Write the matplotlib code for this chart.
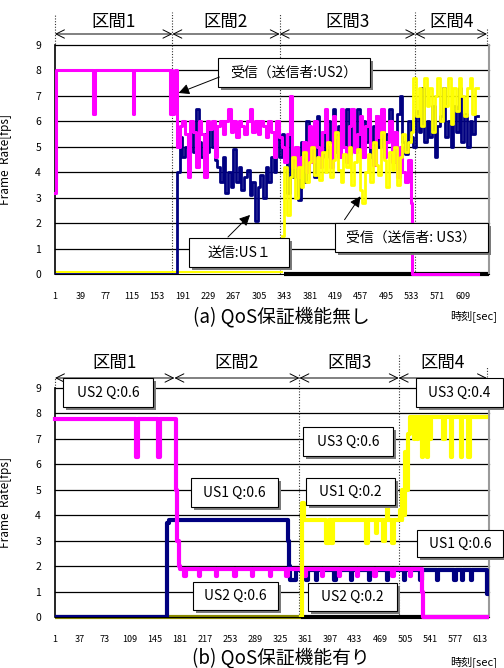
import numpy as np
import matplotlib
matplotlib.use("Agg")
import matplotlib.pyplot as plt
import matplotlib.transforms as mtransforms
from matplotlib.patches import Rectangle, FancyArrowPatch

plt.rcParams['font.family'] = ['Noto Sans CJK JP', 'DejaVu Sans']

W, H = 504, 668
MAGENTA = '#ff00ff'
NAVY = '#000080'
YELLOW = '#ffff00'
OLIVE = '#8a8a00'

# ---------------- (a) QoS保証機能無し ----------------
ticks_a = [1, 39, 77, 115, 153, 191, 229, 267, 305, 343, 381, 419, 457, 495, 533, 571, 609]
sec_a = [1, 176, 336, 538, 645]
sec_names = ['区間1', '区間2', '区間3', '区間4']

# 送信 US1 (sampled every 4 sec from t=183)
nav_a_t0 = 183
nav_a = [4.0, 5.4, 4.6, 5.0, 4.2, 5.6, 4.8, 6.5, 5.2, 4.6, 5.5, 4.8, 5.9, 5.0, 4.5,
         4.2, 3.6, 4.6, 3.2, 4.0, 3.4, 4.9, 3.6, 4.2, 3.3, 3.8, 4.1, 3.1, 3.6, 2.1,
         3.4, 3.9, 3.0, 4.2, 3.6, 4.6, 4.0, 5.3, 4.6, 5.5,
         4.8, 3.2, 5.5, 3.8, 4.5, 2.9, 5.2, 3.6, 6.0, 4.4, 5.4, 3.8, 6.2, 4.9, 5.6,
         4.6, 6.0, 5.2, 6.5, 4.8, 5.8, 6.4, 5.0, 6.5, 4.7, 5.9, 5.3, 6.5, 4.9, 6.0,
         5.2, 6.5, 4.6, 5.8, 6.2, 5.0, 6.4, 4.8, 5.5, 6.5, 5.1, 4.4, 6.3, 7.0, 5.2, 4.7, 6.0, 5.4,
         5.0, 6.4, 5.6, 7.3, 5.2, 6.0, 5.4, 6.6, 4.6, 5.8, 6.2, 7.3, 5.4, 6.0, 5.0, 6.6,
         5.6, 7.3, 5.2, 6.3, 5.0, 6.0, 5.5, 6.2]

# 受信 (送信者:US2)
mag_a_flat_t = [1, 2, 58, 60, 117, 119, 172, 174, 176, 178, 180]
mag_a_flat_v = [3.2, 8.0, 6.3, 8.0, 6.3, 8.0, 6.3, 8.0, 6.3, 7.0, 8.0]
mag_a_t0 = 183
mag_a = [5.0, 5.8, 6.0, 5.5, 3.8, 6.0, 5.6, 4.2, 6.0, 5.5, 3.8, 6.0, 5.7, 6.0, 4.6,
         5.8, 6.0, 5.5, 6.0, 6.5, 5.6, 6.0, 5.4, 6.0, 5.8, 5.5, 6.0, 6.5, 5.6, 6.0,
         5.5, 6.0, 5.8, 5.4, 6.0, 5.6, 4.6, 6.0, 5.4, 5.0,
         4.4, 5.5, 7.0, 4.2, 5.0, 3.8, 4.6, 5.2, 4.0, 5.8, 4.4, 6.0, 5.0, 4.2, 5.6,
         6.5, 5.0, 4.2, 6.2, 5.4, 4.6, 6.5, 5.0, 4.4, 5.8, 6.5, 4.8, 5.5, 6.2, 4.6,
         5.8, 6.5, 5.0, 4.3, 6.2, 5.4, 6.5, 4.6, 5.2, 6.0, 4.4, 5.6, 3.8, 5.0, 4.0, 3.6, 4.5, 2.8]
mag_a_end_t = [533, 631]

# 受信 (送信者:US3)
yel_a_t0 = 339
yel_a = [1.5, 4.2, 2.3, 3.8, 4.6, 3.0, 4.2, 3.4, 4.8, 3.6, 4.4, 5.0, 3.9, 4.6, 3.7,
         4.8, 4.0, 5.2, 3.8, 4.5, 5.6, 4.1, 3.6, 4.7, 4.2, 5.0, 3.5, 4.4, 4.9, 3.3, 2.8,
         4.0, 4.7, 3.6, 5.2, 4.3, 3.9, 5.6, 4.5, 3.4, 4.8, 4.1, 5.0, 3.5, 4.6, 5.5, 4.8, 5.2, 5.6,
         7.7, 6.2, 7.3, 5.8, 7.7, 6.6, 7.3, 5.6, 7.0, 7.7, 6.0, 7.3, 6.6, 7.7, 5.9, 7.3,
         6.4, 7.7, 7.0, 6.2, 7.3, 7.7, 6.3, 7.3]
yel_a_zero_t = [1, 339]
black_a_t = [343, 648]

# ---------------- (b) QoS保証機能有り ----------------
ticks_b = [1, 37, 73, 109, 145, 181, 217, 253, 289, 325, 361, 397, 433, 469, 505, 541, 577, 613]
sec_b = [1, 173, 353, 496, 623]

mag_b_t = [1, 118, 120, 150, 152, 175, 177, 179, 181, 187, 189, 208, 210, 233, 235, 259, 261,
           284, 286, 310, 312, 334, 336, 360, 362, 385, 387, 410, 412, 436, 438, 461, 463,
           487, 489, 512, 514, 530, 531, 623]
mag_b_v = [7.8, 6.3, 7.8, 6.3, 7.8, 5.0, 3.0, 2.0, 1.88, 1.62, 1.88, 1.62, 1.88, 1.62, 1.88,
           1.62, 1.88, 1.62, 1.88, 1.62, 1.88, 1.62, 1.88, 1.62, 1.88, 1.62, 1.88, 1.62, 1.88,
           1.62, 1.88, 1.62, 1.88, 1.62, 1.88, 1.62, 1.88, 1.0, 0.0, 0.0]

nav_b_t = [1, 162, 163, 165, 336, 338, 340, 348, 363, 365, 377, 379, 403, 405, 427, 429,
           453, 455, 479, 481, 503, 505, 527, 529, 551, 553, 576, 578, 587, 589, 600, 602, 623, 626]
nav_b_v = [0.0, 1.0, 3.7, 3.82, 3.0, 2.0, 1.45, 1.85, 1.45, 1.85, 1.45, 1.85, 1.45, 1.85,
           1.45, 1.85, 1.45, 1.85, 1.45, 1.85, 1.45, 1.85, 1.45, 1.85, 1.45, 1.85, 1.45, 1.85,
           1.45, 1.85, 1.45, 1.85, 0.9, 0.9]

yel_b_t = [355, 356, 357, 359, 391, 396, 398, 402, 449, 452, 463, 465, 474, 476, 479, 481,
           486, 489, 498, 500, 501, 503, 505, 507, 509, 512, 518, 520, 522, 524, 529, 531,
           536, 538, 540, 542, 560, 562, 571, 573, 585, 587, 596, 598, 622]
yel_b_v = [0.0, 1.0, 4.5, 3.8, 2.9, 3.8, 2.9, 3.8, 2.9, 3.8, 3.3, 3.8, 3.0, 3.8, 4.3, 3.8,
           2.9, 3.8, 4.2, 3.8, 5.0, 4.0, 6.5, 5.0, 7.2, 7.85, 7.0, 7.85, 7.0, 7.85, 6.3, 7.85,
           6.3, 7.85, 7.0, 7.85, 7.0, 7.85, 6.3, 7.85, 6.3, 7.85, 6.3, 7.85, 7.85]
olive_b_t = [1, 355]
black_b_t = [355, 626]


def fpx(x, y):
    return (x / W, 1 - y / H)


fig = plt.figure(figsize=(W / 100, H / 100), dpi=100)
fig.patch.set_facecolor('white')


def make_axes(top_px, bottom_px, xmax, ticks):
    ax = fig.add_axes([55 / W, 1 - bottom_px / H, 434 / W, (bottom_px - top_px) / H])
    ax.set_xlim(1, xmax)
    ax.set_ylim(0, 9)
    for y in range(1, 10):
        ax.axhline(y, color='black', lw=0.9, zorder=0.5, clip_on=False)
    ax.spines['top'].set_visible(False)
    ax.spines['right'].set_color('#9a9a9a')
    ax.spines['right'].set_linewidth(1.5)
    ax.spines['left'].set_linewidth(1.2)
    ax.set_yticks(range(10))
    ax.set_xticks(ticks)
    ax.tick_params(axis='y', length=0, pad=10, labelsize=7.5)
    ax.tick_params(axis='x', length=0, pad=13, labelsize=6.5)
    ax.set_ylabel('Frame  Rate[fps]', fontsize=8.5)
    ax.yaxis.set_label_coords(-43 / 434, 0.5)
    return ax


def sections(ax, sec, yfrac, label_frac, dots):
    tr = mtransforms.blended_transform_factory(ax.transData, ax.transAxes)
    for i in range(len(sec) - 1):
        ax.annotate('', xy=(sec[i + 1], yfrac), xytext=(sec[i], yfrac),
                    xycoords=tr, textcoords=tr, annotation_clip=False,
                    arrowprops=dict(arrowstyle='<->,head_length=0.6,head_width=0.3',
                                    lw=0.7, color='black', shrinkA=0, shrinkB=0))
        ax.text((sec[i] + sec[i + 1]) / 2, label_frac, sec_names[i], transform=tr,
                ha='center', va='center', fontsize=12.5)
    for x, y0, y1 in dots:
        ax.plot([x, x], [y0, y1], transform=tr, ls=(0, (1, 1.5)), lw=0.8,
                color='#333333', clip_on=False, zorder=1)


def box(text, x0, y0, x1, y1, fs=10):
    w, h = (x1 - x0) / W, (y1 - y0) / H
    fig.add_artist(Rectangle(fpx(x0 + 3, y1 + 3), w, h, transform=fig.transFigure,
                             fc='#7a7a7a', ec='none', zorder=5))
    fig.add_artist(Rectangle(fpx(x0, y1), w, h, transform=fig.transFigure,
                             fc='white', ec='black', lw=0.8, zorder=6))
    fig.text((x0 + x1) / 2 / W, 1 - (y0 + y1) / 2 / H, text, ha='center', va='center',
             fontsize=fs, zorder=7)


def arrow(xa, ya, xb, yb):
    fig.add_artist(FancyArrowPatch(fpx(xa, ya), fpx(xb, yb), transform=fig.transFigure,
                                   arrowstyle='-|>', mutation_scale=16, lw=0.7,
                                   color='black', zorder=6))


# ----- plot (a) -----
ax1 = make_axes(45, 274, 648, ticks_a)
ax1.plot(black_a_t, [0, 0], color='black', lw=3, solid_capstyle='butt', clip_on=False, zorder=2)
ax1.plot(yel_a_zero_t, [0.06, 0.06], color=YELLOW, lw=1.5, zorder=2)

nav_t = nav_a_t0 + 4 * np.arange(len(nav_a))
ax1.plot([1] + list(nav_t) + [631], [0] + nav_a + [nav_a[-1]], color=NAVY, lw=2.0,
         drawstyle='steps-post', zorder=3)

mag_t = mag_a_t0 + 4 * np.arange(len(mag_a))
ax1.plot(mag_a_flat_t + list(mag_t) + mag_a_end_t, mag_a_flat_v + mag_a + [0, 0],
         color=MAGENTA, lw=2.2, drawstyle='steps-post', zorder=4, clip_on=False)

yel_t = yel_a_t0 + 4 * np.arange(len(yel_a))
ax1.plot(list(yel_t) + [631], yel_a + [yel_a[-1]], color=YELLOW, lw=2.0,
         drawstyle='steps-post', zorder=5)

sections(ax1, sec_a, (274 - 34) / 229, (274 - 22) / 229,
         [(1, 1.005, 1.135), (176, 0, 1.145), (336, 0, 1.14), (538, 0, 1.145), (645, 1.005, 1.075)])

fig.text(281 / W, 1 - 317 / H, '(a) QoS保証機能無し', ha='center', va='center', fontsize=13.5)
fig.text(474 / W, 1 - 316 / H, '時刻[sec]', ha='center', va='center', fontsize=8)

box('受信（送信者:US2）', 218, 58, 370, 87)
arrow(222, 76, 176, 94)
box('送信:US１', 189, 238, 289, 267)
arrow(226, 239, 252, 213)
box('受信（送信者: US3）', 335, 223, 488, 252)
arrow(343, 222, 362, 194)

# ----- plot (b) -----
ax2 = make_axes(388, 617, 626, ticks_b)
ax2.plot(olive_b_t, [0, 0], color=OLIVE, lw=3, solid_capstyle='butt', clip_on=False, zorder=2)
ax2.plot(black_b_t, [0, 0], color='black', lw=3, solid_capstyle='butt', clip_on=False, zorder=2)
ax2.plot(nav_b_t, nav_b_v, color=NAVY, lw=3, drawstyle='steps-post', zorder=3)
ax2.plot(mag_b_t, mag_b_v, color=MAGENTA, lw=3, drawstyle='steps-post', zorder=4, clip_on=False)
ax2.plot(yel_b_t, yel_b_v, color=YELLOW, lw=3, drawstyle='steps-post', zorder=5)

sections(ax2, sec_b, (617 - 378) / 229, (617 - 363) / 229,
         [(1, 1.0, 1.05), (353, 0, 1.066), (496, 0, 1.144), (623, 1.05, 1.09)])

fig.text(281 / W, 1 - 658 / H, '(b) QoS保証機能有り', ha='center', va='center', fontsize=13.5)
fig.text(474 / W, 1 - 662 / H, '時刻[sec]', ha='center', va='center', fontsize=8)

box('US2 Q:0.6', 63, 378, 153, 407)
box('US3 Q:0.4', 416, 378, 503, 407)
box('US3 Q:0.6', 303, 427, 393, 456)
box('US1 Q:0.6', 191, 478, 278, 507)
box('US1 Q:0.2', 306, 478, 395, 505)
box('US1 Q:0.6', 417, 530, 503, 557)
box('US2 Q:0.6', 193, 582, 278, 610)
box('US2 Q:0.2', 308, 583, 397, 611)

fig.savefig('out.png', dpi=100)
